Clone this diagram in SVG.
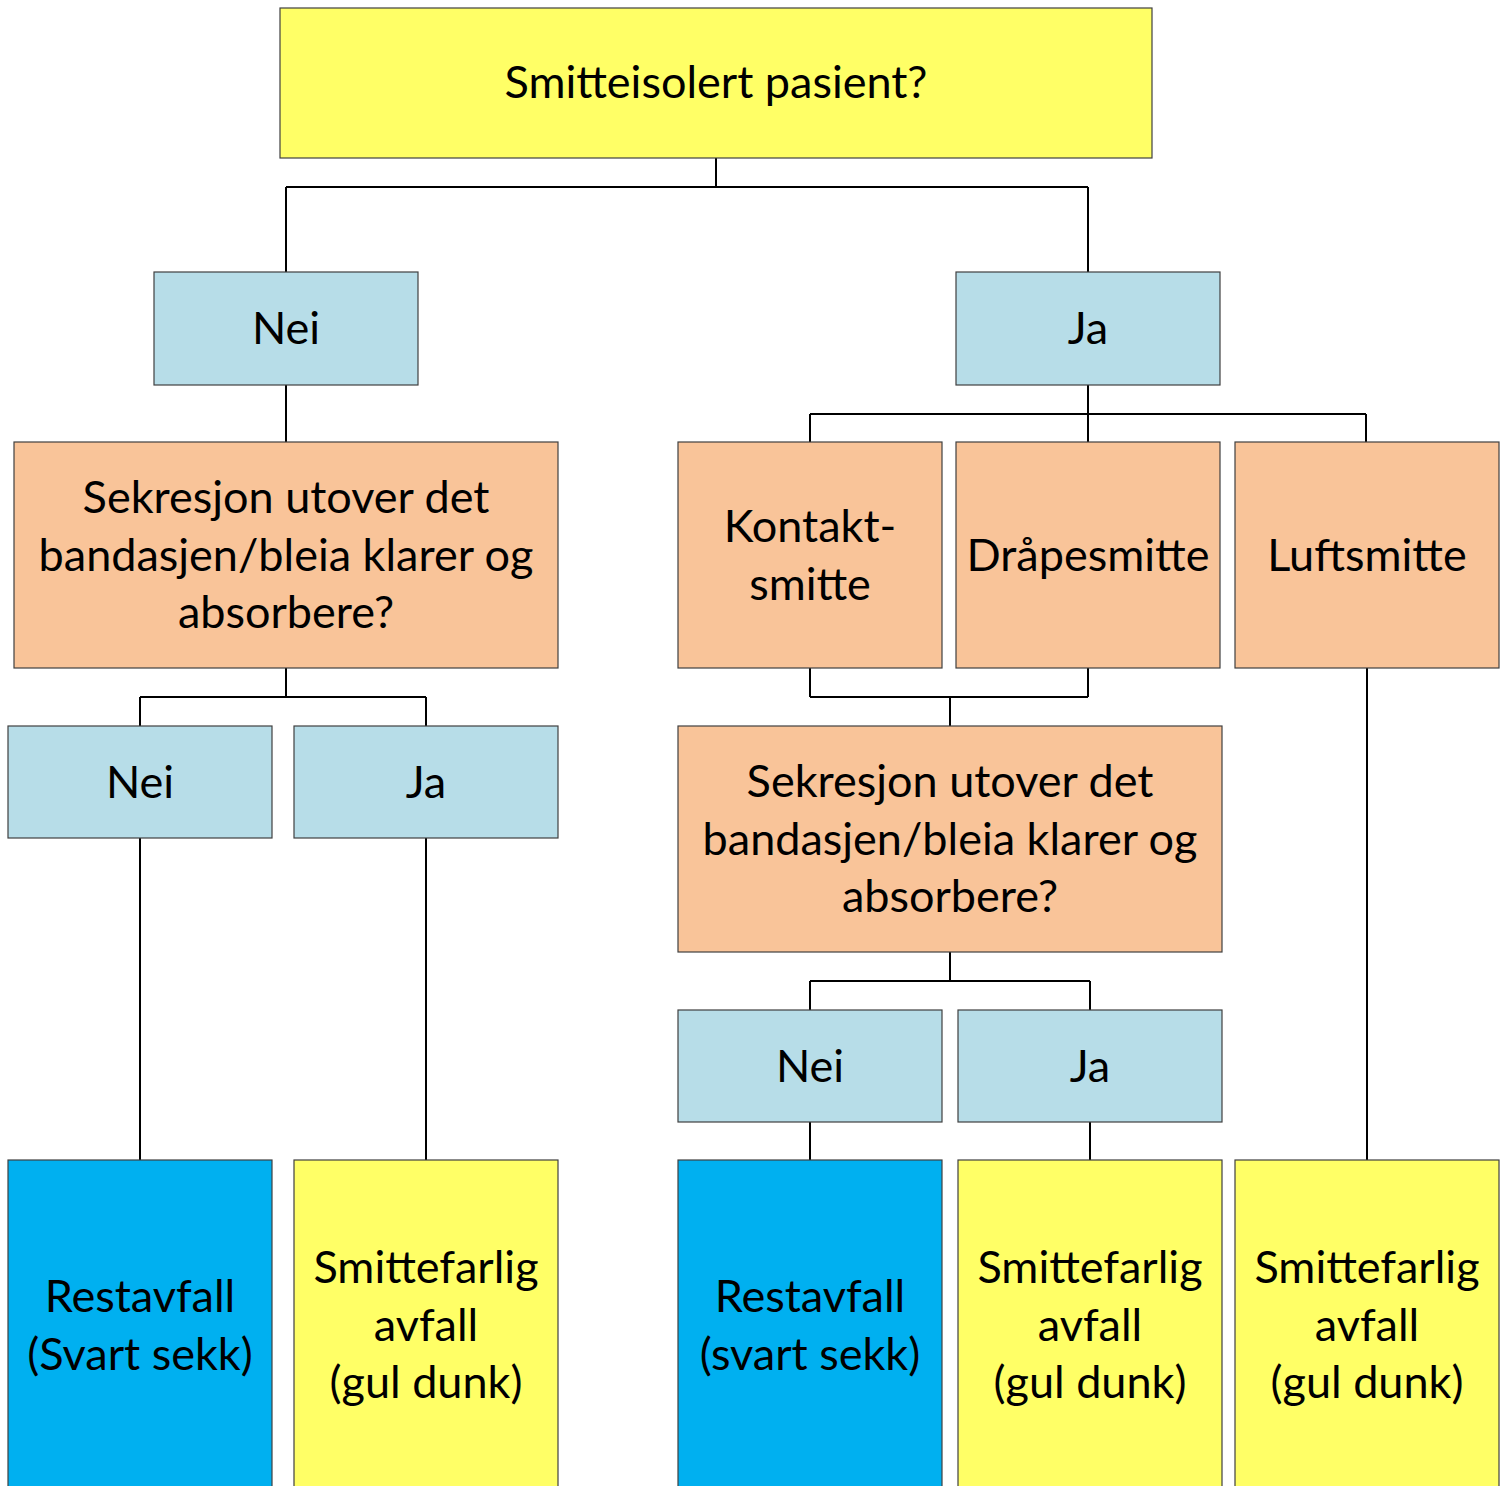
<svg xmlns="http://www.w3.org/2000/svg" width="1510" height="1486" viewBox="0 0 1510 1486">
<style>
.n{stroke:#404040;stroke-width:1.2}
.y{fill:#FFFF66}
.lb{fill:#B7DDE8}
.or{fill:#F9C499}
.bl{fill:#00B0F0}
text{font-family:Lato,"Open Sans",sans-serif;font-size:45px;fill:#000;text-anchor:middle}
#connectors path{fill:none;stroke:#000;stroke-width:2}
</style>
<rect width="1510" height="1486" fill="#fff"/>
<g id="connectors">
<path d="M716,158V187M286,187H1088M286,187V272M1088,187V272"/>
<path d="M286,385V442"/>
<path d="M1088,385V442M810,414H1366M810,414V442M1366,414V442"/>
<path d="M286,668V697M140,697H426M140,697V726M426,697V726"/>
<path d="M140,838V1160M426,838V1160"/>
<path d="M810,668V697M1088,668V697M810,697H1088M950,697V726"/>
<path d="M950,952V981M810,981H1090M810,981V1010M1090,981V1010"/>
<path d="M810,1122V1160M1090,1122V1160"/>
<path d="M1367,668V1160"/>
</g>
<g id="n-top"><rect class="n y" x="280" y="8" width="872" height="150"/><text x="716" y="98">Smitteisolert pasient?</text></g>
<g id="n-nei1"><rect class="n lb" x="154" y="272" width="264" height="113"/><text x="286" y="344">Nei</text></g>
<g id="n-ja1"><rect class="n lb" x="956" y="272" width="264" height="113"/><text x="1088" y="344">Ja</text></g>
<g id="n-sek1"><rect class="n or" x="14" y="442" width="544" height="226"/><text x="286" y="513">Sekresjon utover det</text><text x="286" y="571">bandasjen/bleia klarer og</text><text x="286" y="628">absorbere?</text></g>
<g id="n-kontakt"><rect class="n or" x="678" y="442" width="264" height="226"/><text x="810" y="542">Kontakt-</text><text x="810" y="600">smitte</text></g>
<g id="n-drape"><rect class="n or" x="956" y="442" width="264" height="226"/><text x="1088" y="571">Dråpesmitte</text></g>
<g id="n-luft"><rect class="n or" x="1235" y="442" width="264" height="226"/><text x="1367" y="571">Luftsmitte</text></g>
<g id="n-nei2"><rect class="n lb" x="8" y="726" width="264" height="112"/><text x="140" y="798">Nei</text></g>
<g id="n-ja2"><rect class="n lb" x="294" y="726" width="264" height="112"/><text x="426" y="798">Ja</text></g>
<g id="n-sek2"><rect class="n or" x="678" y="726" width="544" height="226"/><text x="950" y="797">Sekresjon utover det</text><text x="950" y="855">bandasjen/bleia klarer og</text><text x="950" y="912">absorbere?</text></g>
<g id="n-nei3"><rect class="n lb" x="678" y="1010" width="264" height="112"/><text x="810" y="1082">Nei</text></g>
<g id="n-ja3"><rect class="n lb" x="958" y="1010" width="264" height="112"/><text x="1090" y="1082">Ja</text></g>
<g id="n-rest1"><rect class="n bl" x="8" y="1160" width="264" height="340"/><text x="140" y="1312">Restavfall</text><text x="140" y="1370">(Svart sekk)</text></g>
<g id="n-smitte1"><rect class="n y" x="294" y="1160" width="264" height="340"/><text x="426" y="1283">Smittefarlig</text><text x="426" y="1341">avfall</text><text x="426" y="1398">(gul dunk)</text></g>
<g id="n-rest2"><rect class="n bl" x="678" y="1160" width="264" height="340"/><text x="810" y="1312">Restavfall</text><text x="810" y="1370">(svart sekk)</text></g>
<g id="n-smitte2"><rect class="n y" x="958" y="1160" width="264" height="340"/><text x="1090" y="1283">Smittefarlig</text><text x="1090" y="1341">avfall</text><text x="1090" y="1398">(gul dunk)</text></g>
<g id="n-smitte3"><rect class="n y" x="1235" y="1160" width="264" height="340"/><text x="1367" y="1283">Smittefarlig</text><text x="1367" y="1341">avfall</text><text x="1367" y="1398">(gul dunk)</text></g>
</svg>
